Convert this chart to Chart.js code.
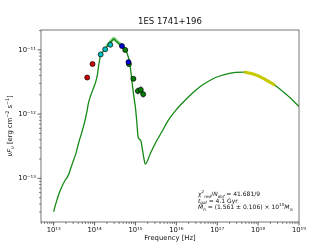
<!DOCTYPE html>
<html>
<head>
<meta charset="utf-8">
<script src="https://cdn.jsdelivr.net/npm/chart.js@4.4.0/dist/chart.umd.min.js"></script>
<style>
html, body { margin: 0; padding: 0; background: #fff; }
#wrap { width: 332px; height: 249px; position: relative; }
</style>
</head>
<body>
<div id="wrap"><canvas id="sed"></canvas></div>
<script>
// SED of 1ES 1741+196, values as log10(nu/Hz) and log10(nuFnu / erg cm^-2 s^-1)
const modelLogNu = [13.00, 13.04, 13.08, 13.14, 13.20, 13.28, 13.36, 13.42, 13.49, 13.55,
  13.61, 13.69, 13.77, 13.81, 13.85, 13.90, 13.94, 14.00, 14.06, 14.10, 14.14, 14.20,
  14.26, 14.32, 14.38, 14.44, 14.47, 14.52, 14.59, 14.66, 14.72, 14.76, 14.80, 14.84,
  14.88, 14.92, 14.96, 15.00, 15.03, 15.06, 15.09, 15.13, 15.17, 15.21, 15.24, 15.36,
  15.49, 15.65, 15.81, 16.00, 16.22, 16.45, 16.63, 16.96, 17.20, 17.45, 17.65, 17.90,
  18.15, 18.41, 18.70, 19.00];
const modelLogFlux = [-13.52, -13.42, -13.34, -13.22, -13.13, -13.03, -12.95, -12.84, -12.71, -12.60,
  -12.45, -12.28, -12.09, -11.97, -11.83, -11.72, -11.65, -11.55, -11.42, -11.25, -11.10, -11.03,
  -10.98, -10.93, -10.88, -10.85, -10.83, -10.86, -10.90, -10.93, -10.96, -11.00, -11.06, -11.15,
  -11.30, -11.52, -11.72, -11.90, -12.10, -12.33, -12.39, -12.41, -12.55, -12.70, -12.78, -12.62,
  -12.45, -12.27, -12.09, -11.93, -11.78, -11.64, -11.55, -11.43, -11.38, -11.35, -11.345, -11.38,
  -11.45, -11.55, -11.70, -11.88];

// lighter band around the optical peak
const bandLogNu = [14.30, 14.38, 14.44, 14.47, 14.52, 14.59, 14.66, 14.72];
const bandLogFlux = [-10.94, -10.88, -10.84, -10.82, -10.85, -10.89, -10.93, -10.96];

// X-ray part (yellow)
const xrayLogNu = [17.66, 17.90, 18.15, 18.41];
const xrayLogFlux = [-11.345, -11.38, -11.45, -11.55];

// photometric points
const redLogNu = [13.82, 13.95];
const redLogFlux = [-11.43, -11.22];
const cyanLogNu = [14.15, 14.26, 14.385];
const cyanLogFlux = [-11.07, -10.99, -10.92];
const blueLogNu = [14.67, 14.83];
const blueLogFlux = [-10.94, -11.19];
const greenLogNu = [14.75, 14.84, 14.95, 15.06, 15.13, 15.19];
const greenLogFlux = [-11.00, -11.22, -11.45, -11.64, -11.62, -11.69];
const greenLogErr = [0, 0, 0.03, 0.06, 0.06, 0.06];

// axis ticks
const xTickExps = [13, 14, 15, 16, 17, 18, 19];
const xTickLabels = ["10¹³", "10¹⁴", "10¹⁵", "10¹⁶", "10¹⁷", "10¹⁸", "10¹⁹"];
const yTickExps = [-13, -12, -11];
const yTickLabels = ["10⁻¹³", "10⁻¹²", "10⁻¹¹"];

const FONT = '"DejaVu Sans"';

function toPoints(lx, ly) {
  return lx.map((v, i) => ({ x: Math.pow(10, v), y: Math.pow(10, ly[i]) }));
}

// minor + major ticks of a log axis
function logTicks(scale) {
  const out = [];
  const e0 = Math.floor(Math.log10(scale.min));
  const e1 = Math.ceil(Math.log10(scale.max));
  for (let e = e0; e <= e1; e++) {
    for (let m = 1; m < 10; m++) {
      const v = m * Math.pow(10, e);
      if (v >= scale.min * 0.999 && v <= scale.max * 1.001) out.push({ value: v, major: m === 1 });
    }
  }
  scale.ticks = out;
}

function tickLabel(exps, labels) {
  return function (value) {
    const e = Math.log10(value);
    const k = exps.indexOf(Math.round(e));
    if (Math.abs(e - Math.round(e)) < 1e-6 && k >= 0) return labels[k];
    return "";
  };
}

// text with italic / sub / sup parts
function richWidth(ctx, parts, size) {
  let w = 0;
  parts.forEach((p) => {
    const s = p.sub || p.sup ? size * 0.7 : size;
    ctx.font = (p.it ? "italic " : "") + s + "px " + FONT;
    w += ctx.measureText(p.t).width;
  });
  return w;
}
function drawRich(ctx, x, y, parts, size) {
  parts.forEach((p) => {
    const s = p.sub || p.sup ? size * 0.7 : size;
    ctx.font = (p.it ? "italic " : "") + s + "px " + FONT;
    const dy = p.sub ? size * 0.25 : p.sup ? -size * 0.42 : 0;
    ctx.fillText(p.t, x, y + dy);
    x += ctx.measureText(p.t).width;
  });
}

const decorPlugin = {
  id: "decor",
  beforeDatasetsDraw(chart) {
    // error bars of the green points
    const ctx = chart.ctx;
    const xs = chart.scales.x, ys = chart.scales.y;
    ctx.save();
    ctx.strokeStyle = "#a0a0a0";
    ctx.lineWidth = 1;
    greenLogNu.forEach((v, i) => {
      if (!greenLogErr[i]) return;
      const px = xs.getPixelForValue(Math.pow(10, v));
      const y0 = ys.getPixelForValue(Math.pow(10, greenLogFlux[i] - greenLogErr[i]));
      const y1 = ys.getPixelForValue(Math.pow(10, greenLogFlux[i] + greenLogErr[i]));
      ctx.beginPath();
      ctx.moveTo(px, y0);
      ctx.lineTo(px, y1);
      ctx.stroke();
    });
    ctx.restore();
  },
  afterDraw(chart) {
    const ctx = chart.ctx;
    const a = chart.chartArea;
    const xs = chart.scales.x, ys = chart.scales.y;
    ctx.save();
    // frame
    ctx.strokeStyle = "#555";
    ctx.lineWidth = 0.8;
    ctx.strokeRect(a.left, a.top, a.right - a.left, a.bottom - a.top);
    // tick marks, outward
    ctx.strokeStyle = "#333";
    xs.ticks.forEach((t) => {
      const px = xs.getPixelForValue(t.value);
      ctx.lineWidth = t.major ? 0.8 : 0.6;
      ctx.beginPath();
      ctx.moveTo(px, a.bottom);
      ctx.lineTo(px, a.bottom + (t.major ? 3.5 : 2));
      ctx.stroke();
    });
    ys.ticks.forEach((t) => {
      const py = ys.getPixelForValue(t.value);
      ctx.lineWidth = t.major ? 0.8 : 0.6;
      ctx.beginPath();
      ctx.moveTo(a.left, py);
      ctx.lineTo(a.left - (t.major ? 3.5 : 2), py);
      ctx.stroke();
    });

    ctx.fillStyle = "#111";
    ctx.textBaseline = "alphabetic";
    // title
    ctx.font = "8.5px " + FONT;
    ctx.textAlign = "center";
    ctx.fillText("1ES 1741+196", (a.left + a.right) / 2, 24);
    // x title
    ctx.font = "6.8px " + FONT;
    ctx.fillText("Frequency [Hz]", (a.left + a.right) / 2, 240);

    // y title, rotated
    ctx.textAlign = "left";
    const yParts = [
      { t: "ν", it: true }, { t: "F", it: true }, { t: "ν", it: true, sub: true },
      { t: " [erg cm" }, { t: "−2", sup: true }, { t: " s" }, { t: "−1", sup: true }, { t: "]" },
    ];
    const yw = richWidth(ctx, yParts, 6.8);
    ctx.save();
    ctx.translate(12, (a.top + a.bottom) / 2);
    ctx.rotate(-Math.PI / 2);
    drawRich(ctx, -yw / 2, 0, yParts, 6.8);
    ctx.restore();

    // fit info
    const fs = 6;
    drawRich(ctx, 198, 196, [
      { t: "χ", it: true }, { t: "2", sup: true }, { t: "red", it: true, sub: true },
      { t: "/" }, { t: "N", it: true }, { t: "dof", it: true, sub: true }, { t: " = 41.681/9" },
    ], fs);
    drawRich(ctx, 198, 202.5, [
      { t: "t", it: true }, { t: "gal", it: true, sub: true }, { t: " = 4.1 Gyr" },
    ], fs);
    drawRich(ctx, 198, 209, [
      { t: "M", it: true }, { t: "h", it: true, sub: true },
      { t: " = (1.561 ± 0.106) × 10" }, { t: "10", sup: true },
      { t: "M", it: true }, { t: "⊙", sub: true },
    ], fs);
    ctx.restore();
  },
};

function markerSet(lx, ly, color) {
  return {
    data: toPoints(lx, ly),
    showLine: false,
    pointRadius: 2.5,
    pointBackgroundColor: color,
    pointBorderColor: "#000",
    pointBorderWidth: 0.7,
    order: 0,
  };
}

function lineSet(lx, ly, color, width, order) {
  return {
    data: toPoints(lx, ly),
    showLine: true,
    pointRadius: 0,
    borderColor: color,
    borderWidth: width,
    cubicInterpolationMode: "monotone",
    order: order,
  };
}

new Chart(document.getElementById("sed"), {
  type: "scatter",
  data: {
    datasets: [
      markerSet(blueLogNu, blueLogFlux, "#0000e0"),
      markerSet(greenLogNu, greenLogFlux, "#008000"),
      markerSet(cyanLogNu, cyanLogFlux, "#00bfbf"),
      markerSet(redLogNu, redLogFlux, "#d00000"),
      lineSet(xrayLogNu, xrayLogFlux, "#c8c800", 3.2, 1),
      lineSet(modelLogNu, modelLogFlux, "#138a13", 1.3, 2),
      lineSet(bandLogNu, bandLogFlux, "rgba(90,200,90,0.75)", 3.2, 3),
    ],
  },
  options: {
    responsive: true,
    maintainAspectRatio: false,
    animation: false,
    layout: { padding: { top: 30, right: 33, left: 0, bottom: 0 } },
    plugins: { legend: { display: false }, tooltip: { enabled: false } },
    scales: {
      x: {
        type: "logarithmic",
        min: Math.pow(10, 12.69),
        max: 1e19,
        afterBuildTicks: logTicks,
        afterFit: (s) => { s.height = 27; },
        grid: { display: false, drawTicks: false },
        border: { display: false },
        ticks: {
          autoSkip: false, maxRotation: 0, padding: 4,
          color: "#111", font: { family: "DejaVu Sans", size: 6.8 },
          callback: tickLabel(xTickExps, xTickLabels),
        },
      },
      y: {
        type: "logarithmic",
        min: Math.pow(10, -13.68),
        max: Math.pow(10, -10.69),
        afterBuildTicks: logTicks,
        afterFit: (s) => { s.width = 41; },
        grid: { display: false, drawTicks: false },
        border: { display: false },
        ticks: {
          autoSkip: false, padding: 5,
          color: "#111", font: { family: "DejaVu Sans", size: 6.8 },
          callback: tickLabel(yTickExps, yTickLabels),
        },
      },
    },
  },
  plugins: [decorPlugin],
});
</script>
</body>
</html>
